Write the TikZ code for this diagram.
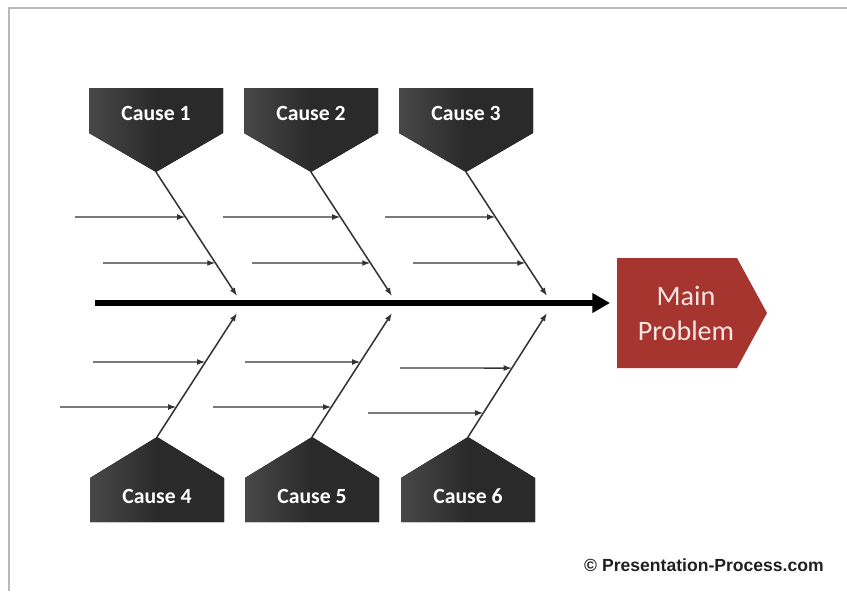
\documentclass[tikz,border=0pt]{standalone}
\usepackage{fontspec}
\setmainfont{Carlito}
\newfontfamily\credfont{Liberation Sans}
\usetikzlibrary{arrows.meta,calc}
\definecolor{boxdark}{HTML}{2A2A2A}
\definecolor{boxedge}{HTML}{484848}
\definecolor{probred}{HTML}{A5352E}
\definecolor{probtext}{HTML}{FAE6E4}
\definecolor{linegrey}{HTML}{333333}
\tikzset{
  causebox/.style={left color=boxedge, right color=boxdark, middle color=boxdark},
  causetext/.style={text=white, font=\fontsize{18.5}{20}\selectfont\bfseries},
  bone/.style={draw=linegrey, line width=1.3pt, -{Latex[length=7pt,width=5pt]}},
  twig/.style={draw=linegrey, line width=1.2pt, -{Latex[length=7pt,width=5pt]}},
  spine/.style={draw=black, line width=4.3pt, -{Triangle[length=15pt,width=16pt]}},
}
\begin{document}
\begin{tikzpicture}[x=0.03cm,y=-0.03cm]
    \useasboundingbox (0,0) rectangle (847,591);
    % frame
    \draw[gray!55, line width=2pt] (9,591) -- (9,8) -- (847,8);
    % spine
    \coordinate (tail) at (95,303);
    \coordinate (head) at (610,303);
    \draw[spine] (tail) -- (head);
    % main problem
    \fill[probred] (617,258) -- (737,258) -- (767,313) -- (737,368) -- (617,368) -- cycle;
    \node[text=probtext, font=\fontsize{24}{30}\selectfont, align=center] (problem) at (686,313) {Main\\Problem};
    % top causes
    \fill[causebox] (89,88) -- (223,88) -- (223,133) -- (156,172) -- (89,133) -- cycle;
    \fill[causebox] (244,88) -- (378,88) -- (378,133) -- (311,172) -- (244,133) -- cycle;
    \fill[causebox] (399,88) -- (533,88) -- (533,133) -- (466,172) -- (399,133) -- cycle;
    \node[causetext] (cause1) at (156,113) {Cause 1};
    \node[causetext] (cause2) at (311,113) {Cause 2};
    \node[causetext] (cause3) at (466,113) {Cause 3};
    \coordinate (top1) at (156,172);
    \coordinate (top2) at (311,172);
    \coordinate (top3) at (466,172);
    \coordinate (tip1) at (237,296);
    \coordinate (tip2) at (392,296);
    \coordinate (tip3) at (547,296);
    \draw[bone] (top1) -- (tip1);
    \draw[bone] (top2) -- (tip2);
    \draw[bone] (top3) -- (tip3);
    % bottom causes
    \fill[causebox] (90,522) -- (224,522) -- (224,478) -- (157,437) -- (90,478) -- cycle;
    \fill[causebox] (245,522) -- (379,522) -- (379,478) -- (312,437) -- (245,478) -- cycle;
    \fill[causebox] (401,522) -- (535,522) -- (535,478) -- (468,437) -- (401,478) -- cycle;
    \node[causetext] (cause4) at (157,496) {Cause 4};
    \node[causetext] (cause5) at (312,496) {Cause 5};
    \node[causetext] (cause6) at (468,496) {Cause 6};
    \coordinate (bot4) at (157,437);
    \coordinate (bot5) at (312,437);
    \coordinate (bot6) at (468,437);
    \coordinate (tip4) at (237,313);
    \coordinate (tip5) at (392,313);
    \coordinate (tip6) at (547,313);
    \draw[bone] (bot4) -- (tip4);
    \draw[bone] (bot5) -- (tip5);
    \draw[bone] (bot6) -- (tip6);
    % sub causes, top
    \coordinate (a1) at (75,217);
    \coordinate (b1) at (103,263);
    \coordinate (a2) at (223,217);
    \coordinate (b2) at (252,263);
    \coordinate (a3) at (385,217);
    \coordinate (b3) at (413,263);
    \draw[twig] (a1) -- ($(top1)!0.363!(tip1)$);
    \draw[twig] (b1) -- ($(top1)!0.734!(tip1)$);
    \draw[twig] (a2) -- ($(top2)!0.363!(tip2)$);
    \draw[twig] (b2) -- ($(top2)!0.734!(tip2)$);
    \draw[twig] (a3) -- ($(top3)!0.363!(tip3)$);
    \draw[twig] (b3) -- ($(top3)!0.734!(tip3)$);
    % sub causes, bottom
    \coordinate (c4) at (93,362);
    \coordinate (d4) at (60,407);
    \coordinate (c5) at (245,362);
    \coordinate (d5) at (213,407);
    \coordinate (c6) at (400,368);
    \coordinate (d6) at (368,413);
    \draw[twig] (c4) -- ($(bot4)!0.605!(tip4)$);
    \draw[twig] (d4) -- ($(bot4)!0.242!(tip4)$);
    \draw[twig] (c5) -- ($(bot5)!0.605!(tip5)$);
    \draw[twig] (d5) -- ($(bot5)!0.242!(tip5)$);
    \draw[twig] (c6) -- ($(bot6)!0.556!(tip6)$);
    \draw[twig] (d6) -- ($(bot6)!0.194!(tip6)$);
    % credit
    \node[text=gray!25!black, font=\credfont\fontsize{15}{17}\selectfont\bfseries] (credit) at (704,565) {© Presentation-Process.com};
\end{tikzpicture}
\end{document}
